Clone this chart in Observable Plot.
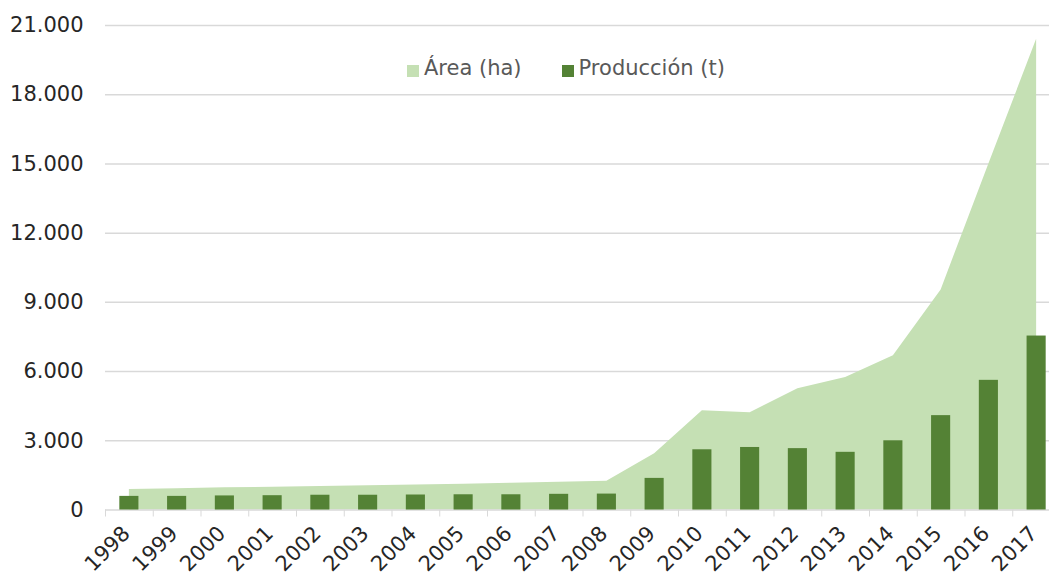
<!DOCTYPE html>
<html>
<head>
<meta charset="utf-8">
<script src="https://cdn.jsdelivr.net/npm/d3@7"></script>
<script src="https://cdn.jsdelivr.net/npm/@observablehq/plot@0.6"></script>
<style>
  html, body { margin: 0; padding: 0; background: white; }
  #wrap { position: relative; width: 1049px; height: 575px; overflow: hidden; }
  #legend { position: absolute; left: 407px; top: 56px; display: flex; align-items: center;
            font-family: "DejaVu Sans", Verdana, sans-serif; font-size: 21px; color: #595959; }
  #legend .item { display: flex; align-items: center; }
  #legend .sw { display: inline-block; width: 12px; height: 12px; margin-right: 5px; margin-top: 6px; }
</style>
</head>
<body>
<div id="wrap">
  <div id="chart"></div>
  <div id="legend"></div>
</div>
<script>
const years = [1998, 1999, 2000, 2001, 2002, 2003, 2004, 2005, 2006, 2007,
               2008, 2009, 2010, 2011, 2012, 2013, 2014, 2015, 2016, 2017];
const areaHa = [890, 925, 960, 990, 1020, 1050, 1080, 1120, 1160, 1200,
                1250, 2440, 4300, 4210, 5260, 5740, 6690, 9540, 15000, 20400];
const produccionT = [590, 590, 610, 620, 640, 640, 650, 660, 660, 680,
                     690, 1370, 2610, 2710, 2660, 2500, 3000, 4090, 5620, 7540];
const yTicks = [0, 3000, 6000, 9000, 12000, 15000, 18000, 21000];
const seriesNames = ["Área (ha)", "Producción (t)"];
const seriesColors = ["#c5e0b4", "#548235"];

const data = years.map((year, i) => ({year, area: areaHa[i], prod: produccionT[i]}));
const bounds = [years[0] - 0.5, ...years.map(y => y + 0.5)];
const fmt = d => d3.format(",")(d).replace(/,/g, ".");

const chart = Plot.plot({
  width: 1049,
  height: 575,
  marginLeft: 105,
  marginRight: -11,
  marginTop: 25,
  marginBottom: 65.5,
  style: {fontFamily: "'DejaVu Sans', Verdana, sans-serif", fontSize: "21px", color: "#262626", background: "white"},
  x: {domain: [years[0] - 0.5, years[years.length - 1] + 0.5], label: null},
  y: {domain: [0, 21000], label: null},
  marks: [
    Plot.ruleY(yTicks.slice(1), {stroke: "#d9d9d9", strokeWidth: 1.5}),
    Plot.areaY(data, {x: "year", y: "area", fill: seriesColors[0]}),
    Plot.ruleY([0], {stroke: "#d9d9d9", strokeWidth: 1.5}),
    Plot.rectY(data, {x1: d => d.year - 0.2, x2: d => d.year + 0.2, y: "prod", fill: seriesColors[1]}),
    Plot.axisY({ticks: yTicks, tickSize: 0, tickPadding: 22, tickFormat: fmt, fill: "#262626", label: null}),
    Plot.axisX({ticks: bounds, tickSize: 7, tickFormat: () => "", stroke: "#d9d9d9", strokeOpacity: 1, label: null}),
    Plot.axisX({ticks: years, tickSize: 0, tickPadding: 20, dx: -3, rotate: -45, textAnchor: "end", lineAnchor: "middle",
                fontSize: 21, tickFormat: d => String(d), fill: "#262626", label: null})
  ]
});
document.getElementById("chart").appendChild(chart);

const legend = document.getElementById("legend");
seriesNames.forEach((name, i) => {
  const item = document.createElement("div");
  item.className = "item";
  if (i > 0) item.style.marginLeft = "40px";
  const sw = document.createElement("span");
  sw.className = "sw";
  sw.style.background = seriesColors[i];
  const t = document.createElement("span");
  t.textContent = name;
  item.appendChild(sw);
  item.appendChild(t);
  legend.appendChild(item);
});
</script>
</body>
</html>
